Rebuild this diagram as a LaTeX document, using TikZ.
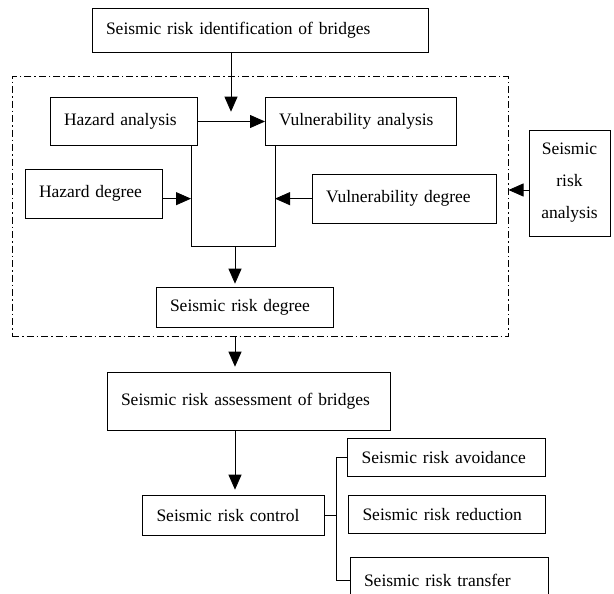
\documentclass[tikz,border=0pt]{standalone}
\usepackage{fontspec}
\setmainfont{Liberation Serif}
\usetikzlibrary{arrows.meta}

\begin{document}
\begin{tikzpicture}[
    x=1pt, y=-1pt,
    >={Triangle[length=15pt,width=13pt]},
    line width=0.8pt,
    every node/.style={font=\fontsize{17.5}{32}\selectfont},
    blk/.style={draw, anchor=north west, align=left, inner xsep=14pt, inner ysep=0pt, outer sep=0pt},
    dashframe/.style={draw, anchor=north west, dash pattern=on 7pt off 3pt on 1.5pt off 3pt, inner sep=0pt, outer sep=0pt}
]
\clip (0,0) rectangle (614,594);

% ---------------- Boxes ----------------
\node[blk, text width=308pt, minimum height=44pt] (ident) at (92,8.3) {Seismic risk identification of bridges};
\node[dashframe, minimum width=496pt, minimum height=260pt] (frm) at (12,76.7) {};
\node[blk, text width=119pt, minimum height=48.4pt] (haz) at (50,97.3) {Hazard analysis};
\node[blk, text width=163pt, minimum height=48.4pt] (vul) at (265,97.3) {Vulnerability analysis};
\node[blk, text width=109pt, minimum height=49.3pt] (hazd) at (25,169) {Hazard degree};
\node[blk, text width=156pt, minimum height=49.3pt] (vuld) at (312,174) {Vulnerability degree};
\node[blk, align=center, inner xsep=0pt, text width=81pt, minimum height=106pt] (sra) at (529,130) {Seismic\\risk\\analysis};
\node[blk, text width=149pt, minimum height=40pt] (srd) at (156,287.7) {Seismic risk degree};
\node[blk, text width=255pt, minimum height=57.3pt] (asmt) at (107,372.7) {Seismic risk assessment of bridges};
\node[blk, text width=153.5pt, minimum height=39.3pt] (ctrl) at (142.5,495.7) {Seismic risk control};
\node[blk, text width=169.3pt, minimum height=37.7pt] (avoid) at (347.7,438.3) {Seismic risk avoidance};
\node[blk, text width=168.5pt, minimum height=37.6pt] (reduce) at (348.5,495.7) {Seismic risk reduction};
\node[blk, text width=170pt, minimum height=46pt] (transfer) at (350,557) {Seismic risk transfer};

% ---------------- Junction points ----------------
\coordinate (in) at (231,111.7);
\coordinate (jl) at (191,246);
\coordinate (jr) at (275,246);
\coordinate (jm) at (235,246);
\coordinate (sin) at (508.5,190);
\coordinate (br) at (336,513);

% Identification
\draw[->] (ident.south -| in) -- (in);

% Analysis
\draw[->] (haz) -- (vul);
\draw (haz.south -| jl) -- (jl) -- (jr) -- (vul.south -| jr);
\draw[->] (hazd.east |- vuld.west) -- (vuld.west -| jl);
\draw[->] (vuld.west) -- (vuld.west -| jr);
\draw[->] (sra.west |- sin) -- (sin);
\draw[->, shorten >=4pt] (jm) -- (jm |- srd.north);

% Assessment
\draw[->, shorten >=6pt] (frm.south -| jm) -- (asmt.north -| jm);
\draw[->, shorten >=6pt] (asmt.south -| jm) -- (ctrl.north -| jm);

% Control
\draw (ctrl.east) -- (ctrl.east -| br);
\draw (avoid.west) -- (avoid.west -| br) -- (br |- transfer.west) -- (transfer.west);

\end{tikzpicture}
\end{document}
